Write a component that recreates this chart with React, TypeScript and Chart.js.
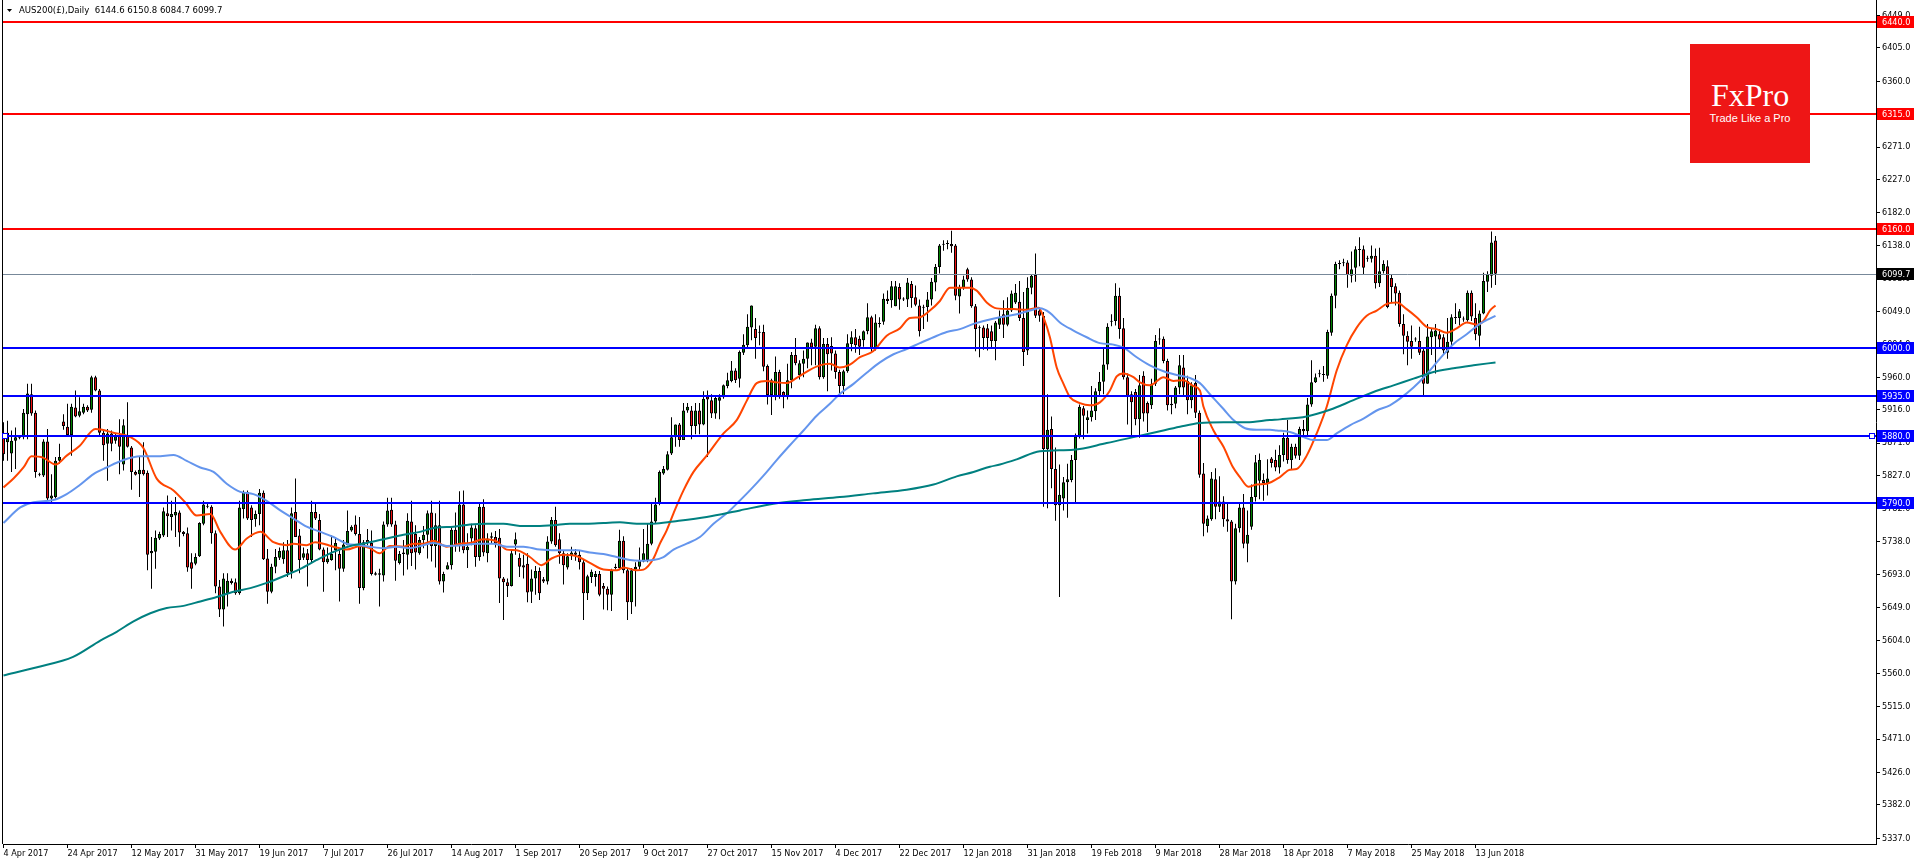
import React, { useEffect, useRef } from 'react';
import { Chart, registerables } from 'chart.js';

Chart.register(...registerables);

// ---- daily OHLC, AUS200 (bars 0..373, 4 Apr 2017 .. 19 Jun 2018) ----
const opens = [
  5885,5872,5857,5874,5878,5879,5910,5937,5912,5829,
  5827,5873,5796,5798,5847,5900,5893,5882,5919,5908,
  5912,5920,5916,5960,5942,5885,5870,5884,5874,5882,
  5842,5881,5865,5832,5829,5835,5831,5722,5724,5742,
  5746,5776,5771,5773,5777,5751,5749,5710,5708,5718,
  5762,5786,5785,5749,5677,5646,5668,5685,5683,5668,
  5782,5805,5784,5768,5775,5804,5715,5670,5704,5716,
  5714,5726,5697,5778,5746,5716,5722,5713,5778,5767,
  5727,5710,5713,5726,5721,5701,5733,5753,5761,5748,
  5675,5740,5736,5695,5695,5692,5761,5781,5761,5709,
  5721,5720,5765,5748,5722,5740,5747,5777,5732,5760,
  5684,5700,5706,5754,5733,5788,5726,5742,5756,5717,
  5785,5722,5743,5744,5743,5688,5683,5678,5734,5716,
  5706,5708,5670,5688,5698,5687,5684,5738,5767,5741,
  5722,5703,5718,5723,5720,5710,5668,5690,5690,5694,
  5678,5674,5666,5704,5702,5739,5699,5656,5700,5704,
  5711,5713,5735,5765,5789,5830,5835,5857,5879,5896,
  5875,5915,5915,5894,5915,5896,5934,5929,5911,5928,
  5933,5948,5955,5969,5958,5993,6003,6027,6025,6021,
  6021,5975,5936,5935,5967,5940,5934,5956,5990,5963,
  5978,5985,6007,6001,6026,5960,6005,6002,5992,5967,
  5948,5968,6005,6014,6012,6010,6022,6041,5998,6033,
  6035,6066,6064,6056,6082,6066,6065,6086,6068,6057,
  6054,6055,6065,6088,6109,6139,6140,6140,6138,6069,
  6081,6106,6092,6056,6027,6027,6026,6022,6009,6031,
  6045,6031,6050,6061,6062,6040,5996,6081,6098,6050,
  6043,5863,5890,5836,5787,5796,5818,5821,5848,5881,
  5918,5902,5906,5914,5941,5954,5977,6035,6036,6070,
  6026,5960,5937,5940,5903,5962,5925,5922,5951,6011,
  6012,5982,5924,5924,5946,5973,5955,5929,5952,5912,
  5830,5759,5768,5822,5785,5792,5768,5765,5684,5756,
  5784,5735,5758,5798,5820,5821,5817,5850,5848,5838,
  5855,5878,5848,5866,5854,5890,5887,5923,5953,5964,
  5964,5962,6020,6070,6113,6114,6115,6097,6108,6133,
  6133,6121,6120,6124,6087,6103,6110,6094,6083,6074,
  6032,6016,6009,6012,6009,5996,5951,6014,6015,6018,
  6014,5993,6008,6040,6040,6038,6037,6074,6040,6016,
  6046,6089,6097,6144.6,
];
const highs = [
  5899,5901,5888,5892,5882,5917,5951,5951,5915,5831,
  5876,5890,5829,5852,5870,5910,5924,5924,5942,5933,
  5924,5922,5962,5962,5944,5889,5890,5888,5884,5903,
  5903,5926,5867,5834,5852,5872,5834,5744,5753,5751,
  5784,5800,5793,5798,5780,5752,5757,5722,5722,5764,
  5793,5790,5787,5753,5686,5695,5695,5688,5688,5793,
  5807,5807,5787,5780,5809,5807,5728,5708,5728,5730,
  5737,5740,5784,5823,5755,5730,5728,5793,5791,5775,
  5730,5730,5746,5744,5726,5740,5780,5760,5773,5771,
  5740,5755,5753,5697,5701,5765,5797,5797,5766,5725,
  5740,5776,5793,5760,5744,5759,5780,5793,5776,5793,
  5697,5710,5758,5777,5806,5807,5749,5762,5760,5789,
  5795,5749,5750,5752,5755,5690,5688,5727,5750,5722,
  5720,5722,5700,5705,5703,5690,5745,5771,5785,5749,
  5725,5722,5731,5728,5726,5713,5693,5700,5698,5698,
  5682,5677,5701,5708,5754,5745,5702,5702,5710,5730,
  5755,5762,5790,5797,5834,5840,5860,5906,5896,5898,
  5925,5925,5921,5925,5925,5941,5942,5937,5935,5937,
  5950,5966,5982,5972,5996,6018,6045,6057,6040,6030,
  6031,5977,5958,5988,5970,5941,5978,5994,6013,5983,
  5996,6007,6012,6031,6029,6013,6013,6014,5996,5970,
  5970,6018,6022,6025,6016,6023,6060,6043,6045,6041,
  6073,6077,6090,6090,6087,6068,6094,6090,6084,6065,
  6058,6075,6094,6113,6140,6145,6145,6158,6140,6085,
  6097,6108,6095,6059,6030,6030,6032,6030,6036,6050,
  6064,6068,6077,6086,6090,6075,6095,6099,6127,6055,
  6048,5937,5907,5865,5842,5825,5843,5855,5884,5923,
  5921,5915,5948,5945,5967,5998,6033,6045,6087,6081,
  6040,5965,5941,5944,5963,5968,5927,5958,6017,6026,
  6015,5985,5935,5948,5990,5990,5962,5953,5963,5915,
  5844,5773,5832,5837,5826,5799,5790,5767,5762,5789,
  5802,5780,5815,5855,5857,5830,5849,5852,5862,5868,
  5885,5902,5870,5870,5893,5902,5932,5983,5965,5970,
  5975,6024,6073,6116,6118,6120,6118,6130,6137,6149,
  6138,6124,6138,6134,6135,6118,6118,6098,6087,6077,
  6045,6022,6030,6014,6028,5999,6032,6025,6032,6025,
  6018,6040,6045,6060,6052,6042,6077,6077,6060,6050,
  6101,6103,6157,6150.8,
];
const lows = [
  5847,5847,5832,5836,5876,5876,5876,5908,5824,5826,
  5825,5793,5791,5796,5843,5889,5881,5854,5906,5906,
  5910,5913,5912,5941,5881,5847,5820,5860,5870,5829,
  5834,5865,5808,5827,5798,5827,5699,5674,5701,5740,
  5744,5744,5753,5744,5731,5745,5697,5674,5706,5717,
  5760,5783,5735,5668,5636,5623,5650,5680,5666,5666,
  5769,5767,5744,5758,5760,5713,5654,5668,5695,5713,
  5708,5690,5688,5744,5695,5713,5677,5710,5767,5726,
  5670,5708,5712,5699,5657,5697,5733,5751,5746,5654,
  5672,5733,5692,5692,5650,5684,5758,5758,5685,5707,
  5692,5700,5705,5700,5720,5729,5715,5711,5703,5680,
  5669,5700,5700,5724,5724,5722,5702,5733,5704,5712,
  5718,5710,5735,5730,5655,5632,5663,5677,5720,5690,
  5688,5656,5655,5666,5659,5682,5680,5735,5731,5708,
  5680,5700,5713,5712,5700,5632,5659,5682,5677,5664,
  5646,5645,5644,5700,5699,5695,5632,5640,5650,5700,
  5710,5710,5733,5763,5787,5828,5834,5855,5866,5866,
  5875,5912,5876,5883,5883,5895,5852,5905,5904,5903,
  5931,5945,5953,5952,5946,5990,6000,6010,5985,6003,
  5968,5923,5909,5929,5931,5918,5930,5945,5976,5957,
  5960,5972,5976,5976,5957,5958,5941,5969,5958,5938,
  5937,5966,5995,5993,5990,6001,6018,5994,5996,6027,
  6031,6059,6054,6056,6051,6063,6055,6054,6056,6015,
  6025,6035,6057,6076,6100,6131,6133,6128,6064,6046,
  6078,6089,6054,5995,5987,5997,5996,5999,5983,6025,
  6013,6029,6048,6059,6036,5975,5990,6072,6040,6035,
  5785,5783,5810,5766,5663,5780,5770,5818,5790,5877,
  5876,5884,5900,5902,5935,5937,5970,6029,6030,6012,
  5957,5896,5881,5895,5878,5900,5886,5917,5948,6004,
  5979,5915,5910,5918,5937,5935,5910,5918,5905,5824,
  5745,5750,5766,5768,5778,5758,5751,5633,5680,5750,
  5729,5710,5754,5792,5795,5793,5800,5838,5833,5830,
  5846,5843,5836,5850,5848,5880,5882,5920,5952,5960,
  5954,5958,6016,6053,6106,6110,6081,6088,6089,6110,
  6098,6116,6115,6080,6082,6100,6053,6060,6057,6028,
  5991,5976,5985,6008,5990,5936,5951,5990,5965,6000,
  5990,5985,5998,6032,6030,6035,6035,6036,6010,6001,
  6045,6075,6081,6084.7,
];
const closes = [
  5856,5885,5874,5879,5879,5912,5938,5911,5832,5828,
  5873,5796,5800,5847,5852,5894,5882,5920,5907,5914,
  5920,5915,5960,5942,5885,5868,5884,5870,5881,5866,
  5895,5866,5832,5828,5835,5829,5720,5725,5743,5748,
  5779,5772,5775,5778,5750,5748,5703,5701,5717,5763,
  5788,5785,5749,5677,5646,5688,5685,5682,5668,5784,
  5805,5769,5767,5775,5804,5714,5670,5704,5717,5725,
  5726,5695,5776,5744,5713,5722,5713,5778,5769,5727,
  5710,5715,5721,5736,5701,5734,5752,5758,5748,5675,
  5737,5736,5694,5693,5693,5761,5780,5761,5712,5721,
  5723,5766,5722,5723,5740,5747,5776,5732,5760,5684,
  5694,5706,5754,5733,5788,5726,5731,5757,5717,5785,
  5723,5742,5745,5735,5688,5683,5678,5722,5741,5704,
  5703,5669,5688,5698,5668,5684,5738,5767,5733,5722,
  5706,5718,5723,5720,5710,5668,5691,5697,5694,5666,
  5674,5666,5699,5702,5739,5699,5656,5699,5704,5713,
  5722,5735,5765,5788,5832,5836,5856,5879,5896,5875,
  5915,5920,5894,5915,5896,5931,5930,5911,5932,5933,
  5949,5956,5969,5956,5994,6004,6028,6057,6013,6020,
  5974,5936,5956,5967,5935,5934,5956,5990,5979,5979,
  5985,6007,6000,6026,5960,6005,5991,5992,5967,5948,
  5968,6006,6014,6003,6001,6022,6041,5998,6034,6032,
  6066,6063,6083,6083,6065,6065,6088,6067,6058,6022,
  6055,6065,6089,6109,6138,6140,6141,6137,6070,6081,
  6092,6092,6056,6025,6026,6013,6013,6009,6034,6041,
  6031,6050,6073,6074,6040,5994,6081,6097,6043,6043,
  5863,5889,5836,5787,5801,5818,5822,5848,5880,5920,
  5908,5906,5915,5941,5954,5977,6028,6036,6070,6025,
  5960,5935,5926,5903,5949,5911,5911,5951,6009,6012,
  5982,5922,5922,5946,5976,5946,5929,5949,5912,5828,
  5762,5769,5823,5785,5792,5768,5765,5684,5756,5784,
  5735,5747,5798,5845,5848,5817,5823,5844,5838,5855,
  5878,5848,5866,5854,5890,5887,5923,5953,5960,5965,
  5963,6021,6070,6113,6114,6115,6098,6106,6133,6132,
  6108,6120,6124,6087,6103,6113,6055,6082,6073,6032,
  6016,6008,6001,6011,5993,5951,6015,6022,6023,6011,
  5996,6008,6041,6041,6049,6038,6074,6042,6018,6046,
  6090,6099,6142,6099.7,
];

// ---- moving averages: [bar index, value] ----
const redMa = [
  [0,5811],[2.5,5823],[5,5838],[7,5853],[10,5851],[13,5842],[15.8,5854],[19,5867],[23,5890],[27.5,5885],
  [31.7,5879],[35,5864],[38.3,5823],[42.5,5807],[45.4,5791],[48.3,5773],[51.7,5775],[54.2,5751],[57.9,5727],[60.8,5742],
  [64.2,5751],[67.5,5737],[70.8,5733],[72.5,5735],[75.8,5733],[77.9,5737],[82.5,5731],[85.8,5727],[89.2,5732],[91.6,5729],
  [94,5722],[96.6,5732],[100,5731],[102.5,5735],[105,5735],[107.5,5739],[110.8,5731],[114.1,5735],[116.6,5736],[120,5741],
  [123.3,5738],[125.8,5727],[128.3,5726],[131.6,5717],[134.5,5706],[137,5715],[140,5720],[143.3,5718],[146.6,5709],[150,5700],
  [153.3,5699],[155,5703],[158.3,5699],[160,5700],[162.5,5715],[164.1,5735],[165.8,5753],[167.5,5776],[170,5807],[172.5,5832],
  [175.8,5854],[180,5884],[183.3,5902],[185.8,5928],[188.3,5952],[190.8,5955],[193.3,5953],[195.8,5952],[198.3,5959],[201.6,5970],
  [204.1,5976],[206.6,5978],[209,5973],[211.6,5977],[214.1,5987],[217.4,5995],[220.8,6016],[224.1,6026],[226.6,6040],[229.1,6041],
  [231.6,6050],[234.1,6063],[236.6,6081],[240,6081],[241.6,6081],[243.3,6077],[245.8,6061],[248.3,6053],[252.5,6052],[255.8,6051],
  [258.8,6054],[260,6041],[261.6,6014],[263.3,5973],[265,5951],[266.6,5933],[269.1,5925],[271.6,5922],[274.1,5926],[276.6,5942],
  [278.3,5961],[280,5965],[282.5,5960],[284.1,5953],[286.6,5949],[290,5960],[292.5,5955],[295,5956],[297.5,5948],[299.1,5942],
  [300,5920],[302.5,5888],[305,5866],[307.3,5839],[309.1,5825],[311.2,5812],[313.3,5815],[315.8,5816],[319.1,5825],[321.6,5835],
  [323.3,5836],[325.8,5854],[328.3,5884],[330.8,5920],[333.3,5969],[335.8,6003],[338.3,6027],[340.8,6043],[343.3,6050],[345.8,6059],
  [348.3,6061],[350.8,6052],[353.3,6041],[355.8,6028],[358.3,6025],[360.8,6020],[363.3,6026],[365.8,6034],[368.3,6031],[370,6036],
  [371.6,6050],[373,6057],
];
const blueMa = [
  [0,5763],[4.2,5784],[7.5,5791],[12.5,5794],[15.8,5802],[19,5814],[22.5,5829],[25.8,5838],[30,5848],[34.2,5853],
  [38.3,5853],[42.5,5855],[45.8,5847],[49.2,5838],[52.5,5832],[55.8,5816],[59.2,5805],[62.5,5802],[65.8,5793],[69.2,5780],
  [72.5,5769],[75.8,5758],[79.2,5751],[82.5,5744],[85.8,5735],[89.2,5733],[91.6,5731],[95,5729],[98.3,5731],[101.6,5729],
  [105,5733],[107.5,5736],[110.8,5732],[115,5733],[118.3,5735],[122.5,5735],[125.8,5731],[130,5731],[134.1,5727],[138.3,5726],
  [143.3,5726],[146.6,5723],[150,5721],[153.3,5717],[156.6,5713],[159.1,5712],[162.5,5713],[165,5717],[167.5,5727],[170.8,5735],
  [174.1,5744],[177.5,5762],[180.8,5776],[183.3,5789],[186.6,5807],[190,5827],[193.3,5848],[196.6,5868],[200,5888],[203.3,5908],
  [206.6,5924],[209,5937],[212.5,5951],[215.8,5966],[219.1,5980],[222.5,5991],[225.8,5998],[229.1,6006],[232.5,6014],[235.8,6021],
  [239.1,6025],[242.5,6032],[245.8,6037],[249.1,6041],[253.3,6045],[256.6,6050],[259.1,6053],[261.6,6047],[264.1,6034],[267.5,6023],
  [270.8,6014],[274.1,6006],[277.5,6004],[280,6000],[283.3,5987],[286.6,5976],[290,5968],[293.3,5963],[296.6,5959],[299.1,5952],
  [301.6,5937],[305,5917],[307.5,5902],[310.4,5891],[313.3,5889],[316.6,5889],[318.3,5888],[321.6,5886],[325,5879],[327.5,5875],
  [330.8,5875],[333.3,5884],[336.6,5895],[340,5904],[343.3,5915],[346.6,5922],[349.1,5931],[352.5,5946],[355.8,5964],[359.1,5985],
  [362.5,6005],[365.8,6018],[369.1,6032],[373,6043],
];
const tealMa = [
  [0,5557],[8.4,5568],[17.4,5582],[24.2,5604],[28.3,5616],[32.5,5630],[36.7,5641],[40.8,5648],[45,5651],[49.2,5657],
  [53.3,5663],[57.5,5670],[61.7,5675],[65.8,5682],[70,5691],[74.2,5701],[78.3,5713],[82.5,5724],[86.7,5732],[90.8,5736],
  [95.8,5742],[100,5747],[104.1,5751],[108.3,5757],[112.5,5758],[116.6,5761],[120.8,5762],[125,5762],[129.1,5759],[133.3,5759],
  [137.5,5760],[141.6,5762],[145.8,5762],[150,5763],[154.1,5764],[158.3,5762],[162.5,5762],[167.5,5765],[175.8,5771],[184.1,5780],
  [192.5,5789],[200.8,5794],[209.1,5798],[217.4,5803],[225.8,5808],[232.5,5815],[238.3,5826],[242.5,5832],[246.6,5839],[249.1,5842],
  [253.3,5849],[259.1,5860],[267.5,5862],[275.8,5871],[282.5,5879],[288.3,5886],[294.1,5893],[299.1,5898],[305,5899],[310.8,5899],
  [316.6,5902],[319.1,5903],[325.8,5907],[331.6,5916],[337.5,5929],[342.5,5940],[347.5,5949],[352.5,5958],[357.5,5967],[362.5,5972],
  [367.5,5976],[373,5980],
];

// ---- axis labels ----
const dateLabels = [
  '4 Apr 2017','24 Apr 2017','12 May 2017','31 May 2017','19 Jun 2017','7 Jul 2017','26 Jul 2017','14 Aug 2017',
  '1 Sep 2017','20 Sep 2017','9 Oct 2017','27 Oct 2017','15 Nov 2017','4 Dec 2017','22 Dec 2017','12 Jan 2018',
  '31 Jan 2018','19 Feb 2018','9 Mar 2018','28 Mar 2018','18 Apr 2018','7 May 2018','25 May 2018','13 Jun 2018',
];
const BARS_PER_LABEL = 16;
const priceTicks = [
  6449,6405,6360,6315,6271,6227,6182,6138,6093,6049,6004,5960,5916,
  5871,5827,5782,5738,5693,5649,5604,5560,5515,5471,5426,5382,5337,
];

// ---- horizontal levels ----
const redLevels = [6440, 6315, 6160];
const blueLevels = [6000, 5935, 5880, 5790];
const lastPrice = 6099.7;
const selectedLevel = 5880;
const headerText = 'AUS200(£),Daily  6144.6 6150.8 6084.7 6099.7';

const AXIS_FONT_FAMILY = '"DejaVu Sans Condensed", "Liberation Sans Narrow", "DejaVu Sans", sans-serif';
const BULL = '#008000';
const BEAR = '#F01010';

const mt4Plugin = {
  id: 'mt4Overlay',
  afterDatasetsDraw(chart: any) {
    const { ctx, chartArea, scales } = chart;
    const y = scales.y;
    ctx.save();
    // left frame
    ctx.strokeStyle = '#000';
    ctx.lineWidth = 1;
    ctx.beginPath();
    ctx.moveTo(chartArea.left - 0.5, 0);
    ctx.lineTo(chartArea.left - 0.5, chartArea.bottom);
    ctx.stroke();
    const hline = (v: number, color: string, w: number) => {
      const p = y.getPixelForValue(v);
      const yy = w % 2 ? Math.round(p) + 0.5 : Math.round(p);
      ctx.strokeStyle = color;
      ctx.lineWidth = w;
      ctx.beginPath();
      ctx.moveTo(chartArea.left, yy);
      ctx.lineTo(chartArea.right, yy);
      ctx.stroke();
    };
    hline(lastPrice, '#778899', 1);
    redLevels.forEach((v) => hline(v, '#FF0000', 2));
    blueLevels.forEach((v) => hline(v, '#0000FF', 2));
    // selection markers on the selected level
    const sy = Math.round(y.getPixelForValue(selectedLevel));
    ctx.strokeStyle = '#0000FF';
    ctx.lineWidth = 1;
    ctx.fillStyle = '#fff';
    [chartArea.left + 2, chartArea.right - 4].forEach((cx) => {
      ctx.fillRect(cx - 2, sy - 2, 4, 4);
      ctx.strokeRect(cx - 2.5, sy - 2.5, 5, 5);
    });
    ctx.restore();
  },
  afterDraw(chart: any) {
    const { ctx, chartArea, scales } = chart;
    const y = scales.y;
    ctx.save();
    ctx.font = `9px ${AXIS_FONT_FAMILY}`;
    ctx.textBaseline = 'middle';
    ctx.textAlign = 'left';
    const box = (v: number, bg: string) => {
      const p = Math.round(y.getPixelForValue(v));
      ctx.fillStyle = bg;
      ctx.fillRect(chartArea.right + 1, p - 6, 37, 12);
      ctx.fillStyle = '#fff';
      ctx.fillText(v.toFixed(1), chartArea.right + 6, p + 0.5);
    };
    redLevels.forEach((v) => box(v, '#FF0000'));
    blueLevels.forEach((v) => box(v, '#0000FF'));
    box(lastPrice, '#000');
    // header
    ctx.fillStyle = '#000';
    ctx.beginPath();
    ctx.moveTo(7, 9);
    ctx.lineTo(12, 9);
    ctx.lineTo(9.5, 12);
    ctx.closePath();
    ctx.fill();
    ctx.font = `9.5px ${AXIS_FONT_FAMILY}`;
    ctx.fillText(headerText, 19, 11);
    ctx.restore();
  },
};

export default function App() {
  const ref = useRef<HTMLCanvasElement>(null);
  useEffect(() => {
    document.body.style.margin = '0';
    const idx = opens.map((_, i) => i);
    const wickData = idx.map((i) => ({ x: i, y: [lows[i], highs[i]] }));
    const bodyData = idx.map((i) => ({
      x: i,
      y: [Math.min(opens[i], closes[i]), Math.max(opens[i], closes[i])],
    }));
    const toPts = (arr: number[][]) => arr.map(([x, v]) => ({ x, y: v }));
    const lineDs = (arr: number[][], color: string) => ({
      type: 'line' as const,
      data: toPts(arr),
      borderColor: color,
      borderWidth: 2,
      pointRadius: 0,
      tension: 0.4,
      cubicInterpolationMode: 'monotone' as const,
      order: 0,
    });
    const font = { family: AXIS_FONT_FAMILY, size: 9 };
    const chart = new Chart(ref.current!, {
      type: 'bar',
      data: {
        datasets: [
          lineDs(tealMa, '#008080'),
          lineDs(blueMa, '#6495ED'),
          lineDs(redMa, '#FF4500'),
          {
            type: 'bar',
            data: bodyData as any,
            barThickness: 3,
            borderWidth: 1,
            borderColor: '#000',
            borderSkipped: false,
            inflateAmount: 0,
            grouped: false,
            minBarLength: 1,
            backgroundColor: (c: any) => (closes[c.dataIndex] >= opens[c.dataIndex] ? BULL : BEAR),
            order: 1,
          } as any,
          {
            type: 'bar',
            data: wickData as any,
            barThickness: 1,
            borderWidth: 0,
            inflateAmount: 0,
            grouped: false,
            backgroundColor: '#000',
            order: 2,
          } as any,
        ],
      },
      options: {
        responsive: false,
        animation: false,
        devicePixelRatio: 1,
        events: [],
        layout: { padding: { left: 3, right: 0, top: 0, bottom: 0 } },
        plugins: { legend: { display: false }, tooltip: { enabled: false } },
        scales: {
          x: {
            type: 'linear',
            min: -0.125,
            max: 468.125,
            offset: false,
            bounds: 'data',
            afterBuildTicks: (s: any) => {
              s.ticks = dateLabels.map((_, k) => ({ value: k * BARS_PER_LABEL }));
            },
            afterFit: (s: any) => {
              s.height = 20;
              s.paddingLeft = 0;
              s.paddingRight = 0;
            },
            grid: { drawOnChartArea: false, drawTicks: true, tickLength: 4, color: '#000', offset: false },
            border: { display: true, color: '#000' },
            ticks: {
              font,
              color: '#000',
              padding: 0,
              align: 'start',
              maxRotation: 0,
              minRotation: 0,
              autoSkip: false,
              callback: (_v: any, i: number) => dateLabels[i],
            },
          } as any,
          y: {
            type: 'linear',
            position: 'right',
            min: 5329.2,
            max: 6469.7,
            bounds: 'data',
            afterBuildTicks: (s: any) => {
              s.ticks = priceTicks.map((v) => ({ value: v }));
            },
            afterFit: (s: any) => {
              s.width = 40;
              s.paddingTop = 0;
              s.paddingBottom = 0;
            },
            grid: { drawOnChartArea: false, drawTicks: true, tickLength: 4, color: '#000' },
            border: { display: true, color: '#000' },
            ticks: {
              font,
              color: '#000',
              padding: 2,
              autoSkip: false,
              callback: (v: any) => Number(v).toFixed(1),
            },
          } as any,
        },
      },
      plugins: [mt4Plugin],
    });
    return () => chart.destroy();
  }, []);

  return (
    <div style={{ position: 'relative', width: 1916, height: 864, background: '#fff', overflow: 'hidden' }}>
      <canvas ref={ref} width={1916} height={864} style={{ display: 'block' }} />
      <div
        style={{
          position: 'absolute',
          left: 1690,
          top: 44,
          width: 120,
          height: 119,
          background: '#EE1616',
          color: '#fff',
          textAlign: 'center',
        }}
      >
        <div
          style={{
            position: 'absolute',
            left: 0,
            width: 120,
            top: 35,
            fontFamily: '"Liberation Serif", "DejaVu Serif", serif',
            fontSize: 32,
            lineHeight: '32px',
          }}
        >
          FxPro
        </div>
        <div
          style={{
            position: 'absolute',
            left: 0,
            width: 120,
            top: 68,
            fontFamily: '"Liberation Sans", Arial, sans-serif',
            fontSize: 11,
            lineHeight: '13px',
          }}
        >
          Trade Like a Pro
        </div>
      </div>
    </div>
  );
}
